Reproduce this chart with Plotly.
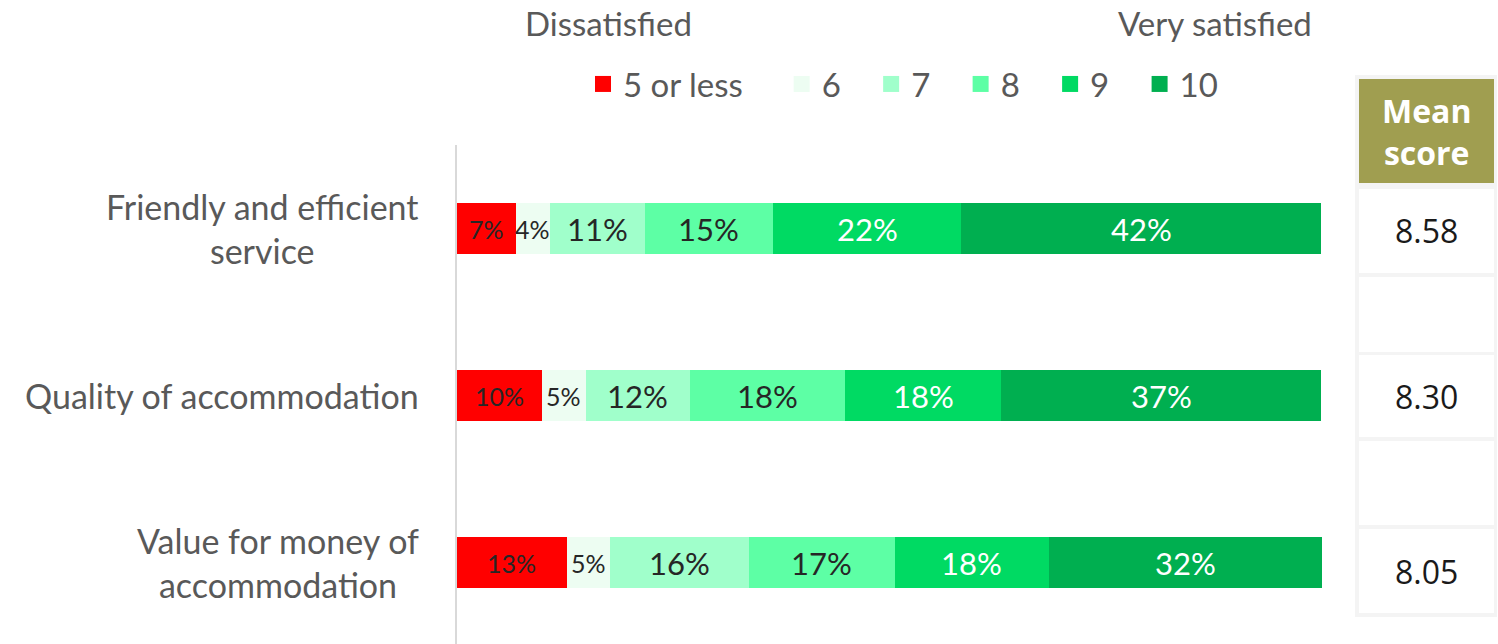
import plotly.graph_objects as go

categories = ["Friendly and efficient<br>service", "Quality of accommodation", "Value for money of<br>accommodation"]
series_names = ["5 or less", "6", "7", "8", "9", "10"]
s_5_or_less = [6.8, 9.8, 12.7]
s_6 = [3.9, 5.1, 5.0]
s_7 = [11.0, 12.0, 16.0]
s_8 = [14.8, 18.0, 16.9]
s_9 = [21.8, 18.0, 17.8]
s_10 = [41.6, 37.0, 31.7]
mean_scores = ["8.58", "8.30", "8.05"]

series_values = [s_5_or_less, s_6, s_7, s_8, s_9, s_10]
colors = ["#FF0000", "#EDFDF2", "#A0FFCB", "#5DFFA5", "#00DA63", "#00AF50"]
text_colors = ["#262626", "#262626", "#262626", "#262626", "#FFFFFF", "#FFFFFF"]
text_sizes = [25, 25, 31, 31, 31, 31]
legend_pad = [4, 3, 3, 3, 3, 0]  # non-breaking spaces after legend text (spacing)

W, H = 1498, 644
OFF = 0  # page body margin removed via post_script
ML, MR, MT, MB = 457 - OFF, W - (1322 - OFF), 145 - OFF, OFF
PW, PH = W - ML - MR, H - MT - MB
FONT = "Lato, 'Open Sans', sans-serif"
GRAY = "#595959"


def px_x(px):
    return (px - OFF - ML) / PW


def px_y(py):
    return (H - MB - (py - OFF)) / PH


fig = go.Figure()
ycats = list(range(len(categories)))
for name, vals, c in zip(series_names, series_values, colors):
    fig.add_trace(go.Bar(
        y=ycats, x=vals, name=name, orientation="h",
        marker=dict(color=c, line=dict(width=0)),
        width=0.31, textposition="none", showlegend=False,
        hoverinfo="skip",
    ))

# legend entries with larger square markers
for name, c, pad in zip(series_names, colors, legend_pad):
    fig.add_trace(go.Scatter(x=[None], y=[None], mode="markers", name=name + "\u00a0" * pad,
                             marker=dict(symbol="square", size=20, color=c, line=dict(width=0))))

# segment labels from cumulative data
for i in ycats:
    cum = 0.0
    for vals, tc, ts in zip(series_values, text_colors, text_sizes):
        v = vals[i]
        fig.add_annotation(x=cum + v / 2, y=i, xref="x", yref="y", text=f"{v:.0f}%",
                           showarrow=False, xanchor="center", yanchor="middle",
                           font=dict(size=ts, color=tc, family=FONT))
        cum += v

fig.update_layout(
    barmode="stack",
    width=W, height=H,
    margin=dict(l=ML, r=MR, t=MT, b=MB, pad=0),
    paper_bgcolor="white", plot_bgcolor="white",
    font=dict(family=FONT, color=GRAY),
    showlegend=True,
    legend=dict(orientation="h", x=px_x(583), y=px_y(56), xanchor="left", yanchor="top",
                font=dict(size=33, color=GRAY, family=FONT), traceorder="normal",
                bgcolor="rgba(0,0,0,0)", itemclick=False, itemdoubleclick=False),
    xaxis=dict(range=[0, 100], visible=False, fixedrange=True),
    yaxis=dict(range=[(H - MB - MT) / 167 - 0.5, -0.5], showticklabels=False, showgrid=False,
               zeroline=False, showline=True, linecolor="#D9D9D9", linewidth=2,
               ticks="", fixedrange=True),
)

# Category labels (centered multi-line, right aligned block)
for i, cat in enumerate(categories):
    fig.add_annotation(x=px_x(421), y=i, xref="paper", yref="y", text=cat, showarrow=False,
                       xanchor="right", yanchor="middle", align="center",
                       font=dict(size=34, color=GRAY, family=FONT))

# Top annotations
fig.add_annotation(x=px_x(608), y=px_y(23), xref="paper", yref="paper", text="Dissatisfied",
                   showarrow=False, xanchor="center", yanchor="middle",
                   font=dict(size=33, color=GRAY, family=FONT))
fig.add_annotation(x=px_x(1215), y=px_y(23), xref="paper", yref="paper", text="Very satisfied",
                   showarrow=False, xanchor="center", yanchor="middle",
                   font=dict(size=33, color=GRAY, family=FONT))

# Mean score table
tx0, tx1 = px_x(1359), px_x(1494)
fig.add_shape(type="rect", xref="paper", yref="paper", x0=px_x(1355), x1=px_x(1497),
              y0=px_y(617), y1=px_y(75), fillcolor="#F4F4F4", line=dict(width=0), layer="below")
fig.add_shape(type="rect", xref="paper", yref="paper", x0=tx0, x1=tx1,
              y0=px_y(183), y1=px_y(79), fillcolor="#A09E50", line=dict(width=0))
fig.add_annotation(x=(tx0 + tx1) / 2, y=px_y(131), xref="paper", yref="paper",
                   text="<b>Mean<br>score</b>", showarrow=False, xanchor="center", yanchor="middle",
                   align="center", font=dict(size=32, color="white", family="'Open Sans', sans-serif"))
cells = [(189, 273), (277, 352), (355, 437), (441, 525), (529, 613)]
for (a, b) in cells:
    fig.add_shape(type="rect", xref="paper", yref="paper", x0=tx0, x1=tx1,
                  y0=px_y(b), y1=px_y(a), fillcolor="white", line=dict(width=0))
for m, (a, b) in zip(mean_scores, [cells[0], cells[2], cells[4]]):
    fig.add_annotation(x=(tx0 + tx1) / 2, y=px_y((a + b) / 2), xref="paper", yref="paper",
                       text=m, showarrow=False, xanchor="center", yanchor="middle",
                       font=dict(size=32, color="#1A1A1A", family="'Open Sans', sans-serif"))

fig.write_html("out.html", config={"displayModeBar": False},
               post_script="document.body.style.margin='0';")
